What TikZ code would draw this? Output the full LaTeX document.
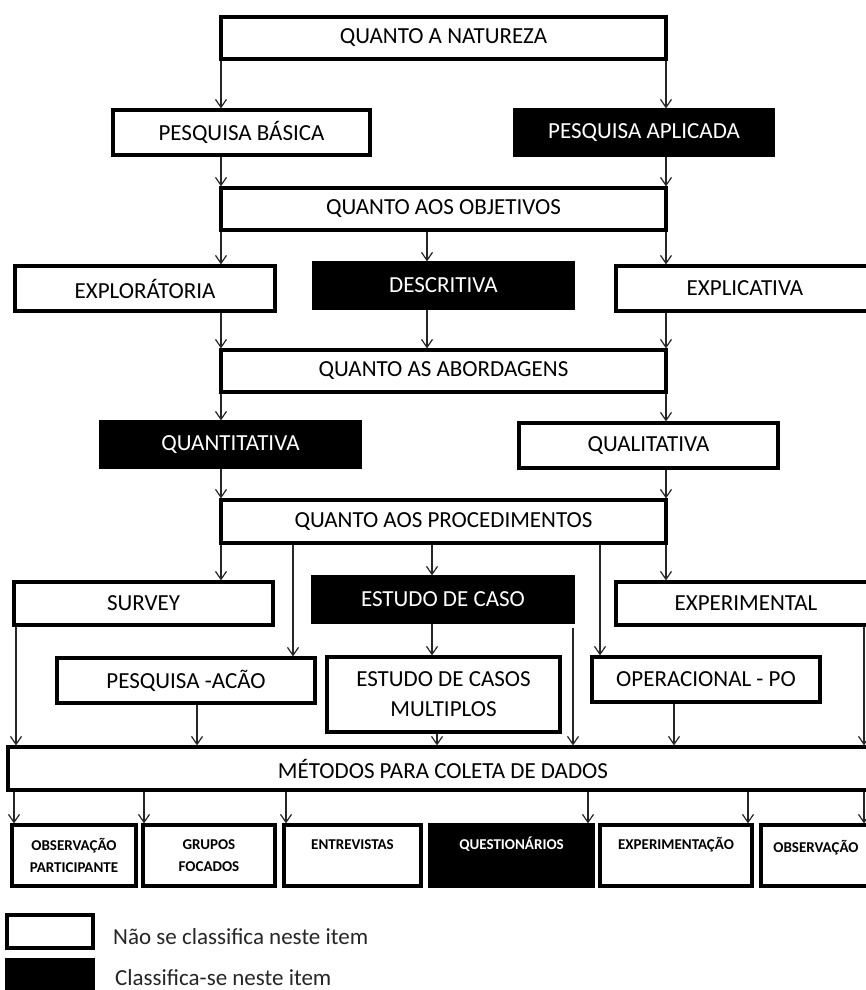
\documentclass[tikz,border=0pt]{standalone}
\usepackage{fontspec}
\setmainfont{Carlito}
\usetikzlibrary{arrows.meta}
\tikzset{
  box/.style={draw=black, line width=3.2pt, fill=white, text=black, inner sep=0pt,
    font=\fontsize{23}{30}\selectfont, align=center},
  blk/.style={box, fill=black, text=white},
  sm/.style={font=\bfseries\fontsize{15}{22}\selectfont},
  arr/.style={-{Straight Barb[length=8pt,width=11pt]}, line width=1.2pt, draw=black!85},
  legtext/.style={anchor=west, inner sep=0pt, font=\fontsize{23}{25}\selectfont, text=black!85},
}
\newcommand{\up}[1]{\raisebox{6pt}[0pt][0pt]{#1}}
\begin{document}
\begin{tikzpicture}[x=1pt,y=-1pt]
\useasboundingbox (0,0) rectangle (866,990);
\clip (0,0) rectangle (866,990);
\fill[white] (0,0) rectangle (866,990);

% x positions of connectors
\foreach \n/\v in {c221/221,c666/666,c427/427,c293/293,c432/432,c600/600,
  c16/16,c197/197,c437/437,c573/573,c674/674,c864/864,
  d14/14,d144/144,d286/286,d588/588,d748/748}
  {\coordinate (\n) at (\v,0);}

% level 1
\node[box, minimum width=445pt, minimum height=42pt] (nat) at (443.5,38) {QUANTO A NATUREZA};
\node[box, minimum width=257pt, minimum height=45pt] (basica) at (241.5,132.5) {PESQUISA BÁSICA};
\node[blk, minimum width=258pt, minimum height=45pt] (aplic) at (644,132.5) {PESQUISA APLICADA};
% level 2
\node[box, minimum width=445pt, minimum height=42pt] (obj) at (443.5,209) {QUANTO AOS OBJETIVOS};
\node[box, minimum width=260pt, minimum height=45pt] (explor) at (145,288.5) {EXPLORÁTORIA};
\node[blk, minimum width=259pt, minimum height=45pt] (descr) at (443.5,285.5) {DESCRITIVA};
\node[box, minimum width=258pt, minimum height=45pt] (explic) at (745,288.5) {EXPLICATIVA};
% level 3
\node[box, minimum width=445pt, minimum height=42pt] (abord) at (443.5,371) {QUANTO AS ABORDAGENS};
\node[blk, minimum width=259pt, minimum height=45pt] (quantit) at (230.5,444.5) {QUANTITATIVA};
\node[box, minimum width=259pt, minimum height=45pt] (qualit) at (648.5,445.5) {QUALITATIVA};
% level 4
\node[box, minimum width=445pt, minimum height=43pt] (proc) at (443.5,521.5) {QUANTO AOS PROCEDIMENTOS};
\node[box, minimum width=259pt, minimum height=43pt] (survey) at (143.5,603.5) {SURVEY};
\node[blk, minimum width=260pt, minimum height=45pt] (estcaso) at (443,599.5) {ESTUDO DE CASO};
\node[box, minimum width=260pt, minimum height=43pt] (experim) at (746,603.5) {EXPERIMENTAL};
\node[box, minimum width=258pt, minimum height=45pt] (pacao) at (186,680.5) {PESQUISA -ACÃO};
\node[box, minimum width=233pt, minimum height=75pt] (multi) at (443.5,694.5) {ESTUDO DE CASOS\\MULTIPLOS};
\node[box, minimum width=228pt, minimum height=45pt] (operac) at (706,679.5) {OPERACIONAL - PO};
% level 5
\node[box, minimum width=870pt, minimum height=43pt] (metodos) at (443,768.5) {MÉTODOS PARA COLETA DE DADOS};
\node[box, sm, minimum width=124pt, minimum height=61pt] (obs1) at (74,855.5) {OBSERVAÇÃO\\PARTICIPANTE};
\node[box, sm, minimum width=132pt, minimum height=61pt] (grupos) at (209,855.5) {GRUPOS\\FOCADOS};
\node[box, sm, minimum width=137pt, minimum height=61pt] (entrev) at (352.5,855.5) {\up{ENTREVISTAS}};
\node[blk, sm, minimum width=163pt, minimum height=61pt] (quest) at (511.5,855.5) {\up{QUESTIONÁRIOS}};
\node[box, sm, minimum width=152pt, minimum height=61pt] (expt) at (676,855.5) {\up{EXPERIMENTAÇÃO}};
\node[box, sm, minimum width=110pt, minimum height=61pt] (obs2) at (816,855.5) {\raisebox{3pt}[0pt][0pt]{OBSERVAÇÃO}};

% legend
\node[box, minimum width=86pt, minimum height=33pt] (leg1) at (50,931.5) {};
\node[blk, minimum width=86pt, minimum height=35pt] (leg2) at (50,977.5) {};
\node[legtext] (legt1) at (113,937) {Não se classifica neste item};
\node[legtext] (legt2) at (115,978) {Classifica-se neste item};

% connectors: natureza
\draw[arr] (nat.south -| c221) -- (basica.north -| c221);
\draw[arr] (nat.south -| c666) -- (aplic.north -| c666);
\draw[arr] (basica.south -| c221) -- (obj.north -| c221);
\draw[arr] (aplic.south -| c666) -- (obj.north -| c666);
% objetivos
\draw[arr] (obj.south -| c221) -- (explor.north -| c221);
\draw[arr] (obj.south -| c427) -- (descr.north -| c427);
\draw[arr] (obj.south -| c666) -- (explic.north -| c666);
\draw[arr] (explor.south -| c221) -- (abord.north -| c221);
\draw[arr] (descr.south -| c427) -- (abord.north -| c427);
\draw[arr] (explic.south -| c666) -- (abord.north -| c666);
% abordagens
\draw[arr] (abord.south -| c221) -- (quantit.north -| c221);
\draw[arr] (abord.south -| c666) -- (qualit.north -| c666);
\draw[arr] (quantit.south -| c221) -- (proc.north -| c221);
\draw[arr] (qualit.south -| c666) -- (proc.north -| c666);
% procedimentos
\draw[arr] (proc.south -| c221) -- (survey.north -| c221);
\draw[arr] (proc.south -| c293) -- (pacao.north -| c293);
\draw[arr] (proc.south -| c432) -- (estcaso.north -| c432);
\draw[arr] (proc.south -| c600) -- (operac.north -| c600);
\draw[arr] (proc.south -| c666) -- (experim.north -| c666);
\draw[arr] (estcaso.south -| c432) -- (multi.north -| c432);
% into metodos
\draw[arr] (survey.south -| c16) -- (metodos.north -| c16);
\draw[arr] (pacao.south -| c197) -- (metodos.north -| c197);
\draw[arr] (multi.south -| c437) -- (metodos.north -| c437);
\draw[arr, shorten <=4pt] (estcaso.south -| c573) -- (metodos.north -| c573);
\draw[arr] (operac.south -| c674) -- (metodos.north -| c674);
\draw[arr] (experim.south -| c864) -- (metodos.north -| c864);
% out of metodos
\draw[arr] (metodos.south -| d14) -- (obs1.north -| d14);
\draw[arr] (metodos.south -| d144) -- (grupos.north -| d144);
\draw[arr] (metodos.south -| d286) -- (entrev.north -| d286);
\draw[arr] (metodos.south -| d588) -- (quest.north -| d588);
\draw[arr] (metodos.south -| d748) -- (expt.north -| d748);
\draw[arr] (metodos.south -| c864) -- (obs2.north -| c864);
\end{tikzpicture}
\end{document}
